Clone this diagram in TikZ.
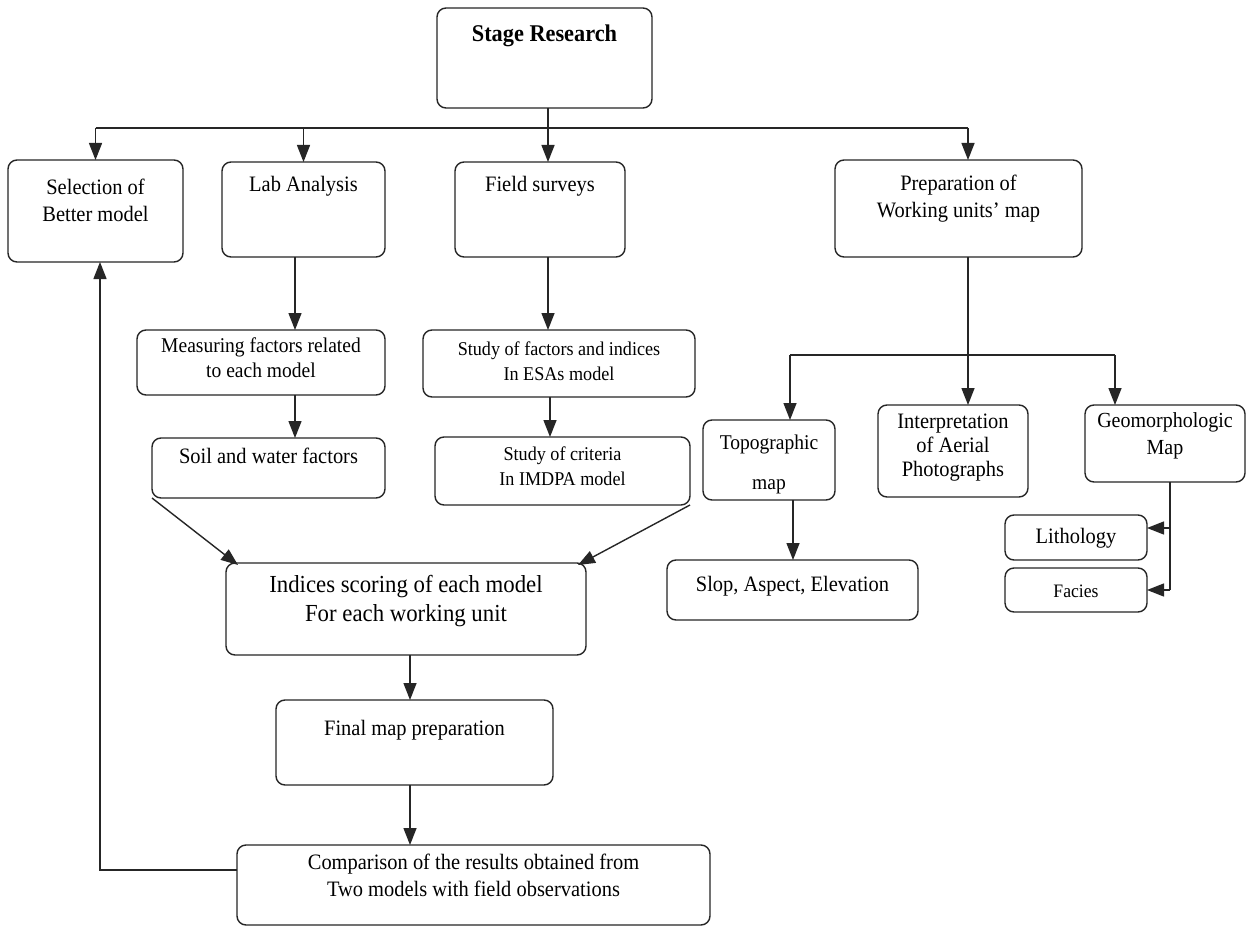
\documentclass[tikz,border=0pt]{standalone}
\usepackage{fontspec}
\setmainfont{Liberation Serif}[FakeStretch=0.93]
\usetikzlibrary{arrows.meta,calc}
\begin{document}
\begin{tikzpicture}[x=1pt,y=-1pt,
  box/.style={draw=black!85, rounded corners=9pt, line width=1.4pt, inner sep=0pt, outer sep=0pt},
  txt/.style={align=center, inner sep=0pt, font=\fontsize{22}{27}\selectfont},
  ln/.style={draw=black!85, line width=1.4pt},
  arr/.style={ln, -{Triangle[length=17pt,width=13pt]}}]
\useasboundingbox (0,0) rectangle (1247,928);
\fill[white] (0,0) rectangle (1247,928);
% boxes
\node[box, minimum width=215pt, minimum height=100pt] (stage) at (544.5,58) {};
\node[txt, font=\fontsize{24}{28}\selectfont\bfseries] (stage-t) at (544.5,36) {Stage Research};
\node[box, minimum width=175pt, minimum height=102pt] (sel) at (95.5,211) {};
\node[txt] (sel-t) at (95.5,200) {Selection of\\Better model};
\node[box, minimum width=163pt, minimum height=95pt] (lab) at (303.5,209.5) {};
\node[txt] (lab-t) at (303.5,186) {Lab Analysis};
\node[box, minimum width=170pt, minimum height=95pt] (field) at (540,209.5) {};
\node[txt] (field-t) at (540,186) {Field surveys};
\node[box, minimum width=247pt, minimum height=97pt] (prep) at (958.5,208.5) {};
\node[txt] (prep-t) at (958.5,199) {Preparation of\\Working units' map};
\node[box, minimum width=248pt, minimum height=65pt] (meas) at (261,362.5) {};
\node[txt, font=\fontsize{21}{25}\selectfont] (meas-t) at (261,358) {Measuring factors related\\to each model};
\node[box, minimum width=233pt, minimum height=60pt] (soil) at (268.5,468) {};
\node[txt] (soil-t) at (268.5,456) {Soil and water factors};
\node[box, minimum width=272pt, minimum height=67pt] (esa) at (559,363.5) {};
\node[txt, font=\fontsize{19.5}{25}\selectfont] (esa-t) at (559,361) {Study of factors and indices\\In ESAs model};
\node[box, minimum width=255pt, minimum height=68pt] (imdpa) at (562.5,471) {};
\node[txt, font=\fontsize{19.5}{25}\selectfont] (imdpa-t) at (562.5,466) {Study of criteria\\In IMDPA model};
\node[box, minimum width=360pt, minimum height=92pt] (ind) at (406,609) {};
\node[txt, font=\fontsize{24.5}{29}\selectfont] (ind-t) at (406,601) {Indices scoring of each model\\For each working unit};
\node[box, minimum width=277pt, minimum height=85pt] (final) at (414.5,742.5) {};
\node[txt] (final-t) at (414.5,730) {Final map preparation};
\node[box, minimum width=473pt, minimum height=80pt] (comp) at (473.5,885) {};
\node[txt] (comp-t) at (473.5,875) {Comparison of the results obtained from\\Two models with field observations};
\node[box, minimum width=132pt, minimum height=80pt] (topo) at (769,460) {};
\node[txt, font=\fontsize{21}{40}\selectfont] (topo-t) at (769,464) {Topographic\\map};
\node[box, minimum width=150pt, minimum height=92pt] (interp) at (953,451) {};
\node[txt, font=\fontsize{22}{24}\selectfont] (interp-t) at (953,448) {Interpretation\\of Aerial\\Photographs};
\node[box, minimum width=160pt, minimum height=77pt] (geo) at (1165,443.5) {};
\node[txt, font=\fontsize{21.5}{27}\selectfont] (geo-t) at (1165,436) {Geomorphologic\\Map};
\node[box, minimum width=251pt, minimum height=60pt] (slop) at (792.5,590) {};
\node[txt] (slop-t) at (792.5,586) {Slop, Aspect, Elevation};
\node[box, minimum width=142pt, minimum height=45pt] (lith) at (1076,537.5) {};
\node[txt] (lith-t) at (1076,538) {Lithology};
\node[box, minimum width=142pt, minimum height=44pt] (fac) at (1076,590) {};
\node[txt, font=\fontsize{19}{22}\selectfont] (fac-t) at (1076,591) {Facies};
% connectors
\coordinate (h) at (548,128);
\coordinate (hp) at (968,128);
\coordinate (h2) at (968,355);
\coordinate (g) at (1170,590);
\draw[ln] (stage.south -| h) -- (h);
\draw[ln] (h -| sel) -- (hp);
\draw[arr] (h -| sel) -- (sel);
\draw[arr] (h -| lab) -- (lab);
\draw[arr] (h) -- (h |- field.north);
\draw[arr] (hp) -- (hp |- prep.north);
\draw[arr] ([xshift=-8.5pt]lab.south) -- ([xshift=-8.5pt]lab.south |- meas.north);
\draw[arr] ([xshift=34pt]meas.south) -- ([xshift=34pt]meas.south |- soil.north);
\draw[arr] ([xshift=8pt]field.south) -- ([xshift=8pt]field.south |- esa.north);
\draw[arr] ([xshift=-9pt]esa.south) -- ([xshift=-9pt]esa.south |- imdpa.north);
\draw[arr] (soil.south west) -- ([xshift=12pt,yshift=-2pt]ind.north west);
\draw[arr] (imdpa.south east) -- ([xshift=-8pt,yshift=-2pt]ind.north east);
\draw[arr] ([xshift=4pt]ind.south) -- ([xshift=4pt]ind.south |- final.north);
\draw[arr] ([xshift=-4.5pt]final.south) -- ([xshift=-4.5pt]final.south |- comp.north);
\draw[arr] ([yshift=15pt]comp.west) -| ([xshift=4.5pt]sel.south);
\draw[ln] (hp |- prep.south) -- (h2);
\draw[ln] ([xshift=21pt]h2 -| topo) -- ([xshift=-50pt]h2 -| geo);
\draw[arr] ([xshift=21pt]h2 -| topo) -- ([xshift=21pt]topo.north);
\draw[arr] (h2) -- (h2 |- interp.north);
\draw[arr] ([xshift=-50pt]h2 -| geo) -- ([xshift=-50pt]geo.north);
\draw[arr] ([xshift=24pt]topo.south) -- ([xshift=24pt]topo.south |- slop.north);
\draw[ln] ([xshift=5pt]geo.south) -- (g);
\draw[arr] (g) -- (fac.east |- g);
\draw[arr] ([yshift=9.5pt]lith.east -| g) -- ([yshift=9.5pt]lith.east);
\end{tikzpicture}
\end{document}
